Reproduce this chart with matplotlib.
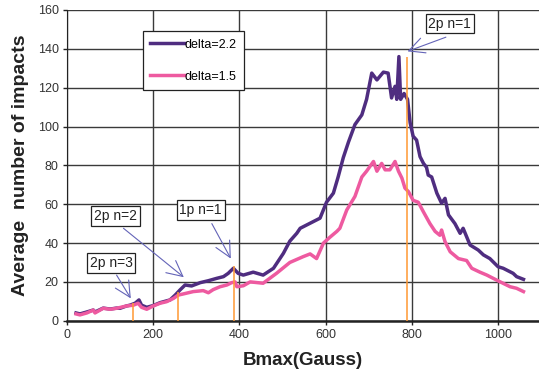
import matplotlib.pyplot as plt

plt.rcParams['font.family'] = ['Liberation Sans', 'DejaVu Sans']

# delta = 2.2 (purple)
x_22 = [21, 30, 46, 61, 65, 84, 100, 115, 123, 138, 146, 158, 167, 173, 185, 200, 216, 239,
        251, 262, 274, 289, 309, 328, 347, 363, 374, 386, 397, 409, 432, 455, 479, 502, 517,
        533, 541, 564, 587, 602, 618, 629, 641, 653, 668, 684, 695, 707, 719, 734, 745, 753,
        761, 765, 770, 774, 782, 790, 796, 803, 811, 819, 827, 834, 838, 846, 858, 869, 877,
        885, 900, 912, 919, 935, 954, 966, 981, 1000, 1012, 1035, 1043, 1059]
y_22 = [4, 3.5, 4.5, 5.5, 4.5, 6.5, 6, 6.5, 6.4, 7.6, 8, 9, 10.7, 8, 6.9, 7.8, 9.3, 10.7,
        13.2, 15.8, 18.4, 17.9, 19.6, 20.6, 21.8, 22.7, 24.4, 27, 24.4, 23.5, 25, 23.5, 27,
        34.7, 41, 45, 47.6, 50.2, 52.8, 61, 65.7, 74, 84, 92, 101, 106, 114, 127.5, 124, 128,
        127.5, 114.7, 120.7, 114, 136, 114, 117, 114, 102, 95, 93, 84.5, 81, 79, 75, 74, 65.7,
        60.5, 63, 54.5, 50, 45, 47.6, 39, 36.4, 33.9, 32, 27.8, 27, 24.4, 22.7, 21.3]

# delta = 1.5 (pink)
x_15 = [21, 30, 46, 61, 65, 84, 100, 115, 138, 154, 165, 173, 185, 200, 216, 231, 247, 258,
        270, 293, 316, 328, 339, 355, 371, 382, 390, 394, 409, 425, 455, 486, 517, 548, 564,
        579, 595, 610, 626, 633, 649, 668, 684, 695, 711, 719, 730, 738, 749, 761, 769, 777,
        784, 792, 803, 815, 827, 842, 854, 865, 869, 877, 889, 908, 927, 939, 958, 974, 989,
        1005, 1028, 1043, 1059]
y_15 = [3.5, 3, 4, 5.5, 4, 6.4, 5.9, 6.4, 7.6, 8, 9, 6.9, 5.9, 7.6, 9, 9.8, 11.5, 13.2,
        13.8, 15, 15.5, 14.4, 16, 17.5, 18.4, 19.6, 20, 17.5, 18, 20, 19.3, 24.4, 30, 33, 34.4,
        32, 40, 43, 46, 47.6, 57, 64, 74, 77, 82, 77, 81, 77.7, 77.7, 82, 77, 73.4,
        68.3, 66.5, 62, 61, 56, 50, 46, 44, 46.7, 40.7, 35.5, 32, 31, 27, 25, 23.5, 21.8,
        20, 17.5, 16.7, 15]

# resonance markers
res_x = [154, 258, 387, 788]
res_top = [9, 15, 28, 136]

labels = ['2p n=3', '2p n=2', '1p n=1', '2p n=1']
label_pos = [(102, 29.7), (112, 54), (310, 57), (888, 153)]
arrow_from = [(115, 23.5), (131, 47.6), (336, 50), (879, 146)]
arrow_to = [(148, 11.5), (271, 22.4), (380, 32), (790, 138.7)]

fig = plt.figure(figsize=(5.39, 3.80), dpi=100)
ax = fig.add_axes([0.1243, 0.156, 0.8757, 0.8177])

ax.plot(x_22, y_22, color='#4f2d80', lw=2.5, label='delta=2.2', zorder=3)
ax.plot(x_15, y_15, color='#ee5aa0', lw=2.5, label='delta=1.5', zorder=3)
ax.vlines(res_x, 0, res_top, color='#ff9933', lw=1.1, zorder=4)

for (tx, ty), (sx, sy), (ex, ey), lab in zip(label_pos, arrow_from, arrow_to, labels):
    ax.annotate('', xy=(ex, ey), xytext=(sx, sy),
                arrowprops=dict(arrowstyle='->,head_length=0.8,head_width=0.4',
                                color='#6464b8', lw=0.8, shrinkA=0, shrinkB=0,
                                mutation_scale=14), zorder=5)
    ax.text(tx, ty, lab, ha='center', va='center', fontsize=10, color='#222222', zorder=6,
            bbox=dict(boxstyle='square,pad=0.2', fc='white', ec='#222222', lw=0.9))

ax.set_xlim(0, 1095)
ax.set_ylim(0, 160)
ax.set_xticks([0, 200, 400, 600, 800, 1000])
ax.set_yticks(range(0, 161, 20))
ax.grid(True, color='#3a3a3a', lw=1.0, zorder=0)
ax.set_axisbelow(True)
ax.tick_params(labelsize=9, labelcolor='#333333', length=3, width=1, color='#222222', pad=3)

for s in ['top', 'right']:
    ax.spines[s].set_visible(False)
ax.spines['left'].set_color('#222222')
ax.spines['bottom'].set_color('#222222')
ax.spines['bottom'].set_linewidth(1.8)

ax.set_xlabel('Bmax(Gauss)', fontsize=13.5, fontweight='bold', color='#222222', labelpad=8)
ax.set_ylabel('Average  number of impacts', fontsize=14, fontweight='bold', color='#222222',
              labelpad=6)

leg = ax.legend(loc='upper left', bbox_to_anchor=(0.161, 0.932), borderaxespad=0,
                fontsize=9, labelspacing=1.6, handlelength=2.7, handletextpad=0.05,
                fancybox=False, framealpha=1, edgecolor='#222222', borderpad=0.6)
leg.get_frame().set_linewidth(0.9)
leg.set_zorder(7)

fig.savefig('out.png', dpi=100)
